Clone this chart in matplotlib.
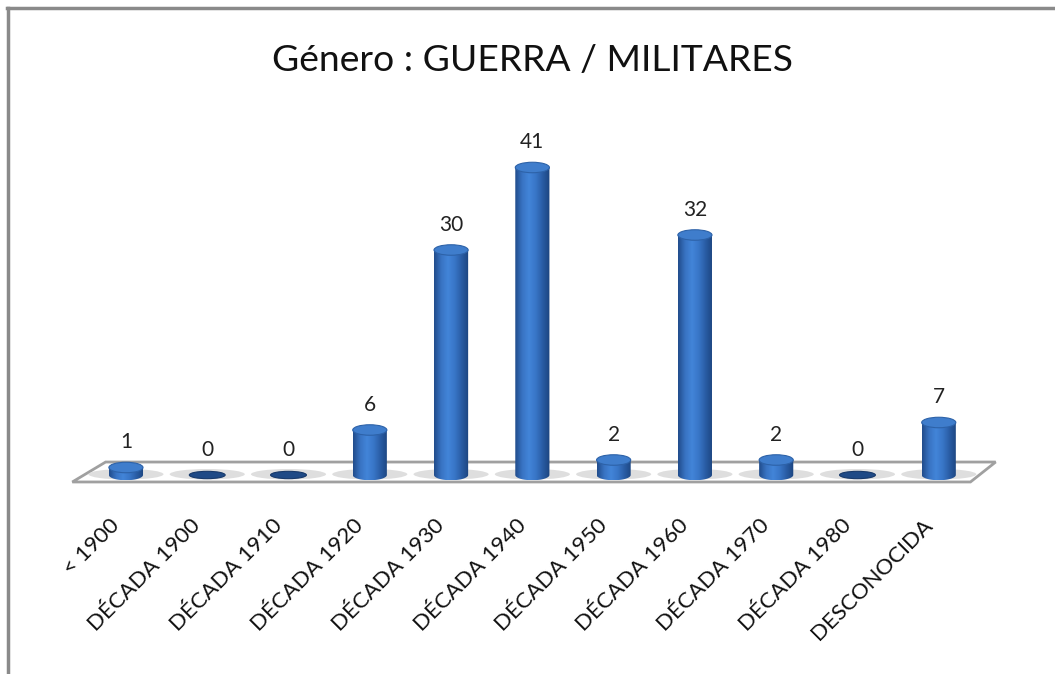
import numpy as np
import matplotlib
matplotlib.use("Agg")
import matplotlib.pyplot as plt
from matplotlib.patches import Ellipse, Polygon, PathPatch
from matplotlib.path import Path
from matplotlib.lines import Line2D

# data
categories = ['< 1900', 'DÉCADA 1900', 'DÉCADA 1910', 'DÉCADA 1920',
              'DÉCADA 1930', 'DÉCADA 1940', 'DÉCADA 1950', 'DÉCADA 1960',
              'DÉCADA 1970', 'DÉCADA 1980', 'DESCONOCIDA']
values = [1, 0, 0, 6, 30, 41, 2, 32, 2, 0, 7]
title = 'Género : GUERRA / MILITARES'

plt.rcParams['font.family'] = ['Lato', 'DejaVu Sans']

fig = plt.figure(figsize=(10.55, 6.74), dpi=100)
ax = fig.add_axes([0.0616, 0.273, 0.886, 0.523])
ax.set_xlim(-0.75, 10.75)
ax.set_ylim(-2, 45)
ax.axis('off')

# frame lines (left and top) like the cropped chart border
fig.add_artist(Line2D([0.008, 0.008], [0, 0.988], transform=fig.transFigure,
                      color='#8a8a8a', lw=2.5))
fig.add_artist(Line2D([0.007, 1.0], [0.988, 0.988], transform=fig.transFigure,
                      color='#8a8a8a', lw=2.5))

# floor
floor = Polygon([(-0.25, 1.73), (10.7, 1.73), (10.39, -0.93), (-0.66, -0.93)],
                closed=True, facecolor='white', edgecolor='#a0a0a0', lw=2.0,
                zorder=1)
ax.add_patch(floor)

x = np.arange(len(categories))
w = 0.42
eh = 1.4  # ellipse height in data units

# horizontal gradient for cylinder shading
grad_cols = np.array([
    [0.13, 0.30, 0.55],
    [0.22, 0.45, 0.76],
    [0.26, 0.52, 0.85],
    [0.22, 0.46, 0.78],
    [0.16, 0.36, 0.64],
    [0.11, 0.27, 0.50],
])
pos = np.linspace(0, 1, len(grad_cols))
g = np.linspace(0, 1, 64)
grad = np.stack([np.interp(g, pos, grad_cols[:, c]) for c in range(3)], axis=-1)
grad = grad[np.newaxis, :, :]

bars = ax.bar(x, values, width=w, color='#2a5ea8', zorder=3)

for xi, v, rect in zip(x, values, bars):
    # floor shadow
    ax.add_patch(Ellipse((xi, 0.1), w * 2.2, eh * 1.0, facecolor='#d6d6d6',
                         edgecolor='none', alpha=0.8, zorder=2))
    if v == 0:
        rect.set_visible(False)
        ax.add_patch(Ellipse((xi, 0), w * 1.05, eh * 0.7, facecolor='#1f4a86',
                             edgecolor='#17396a', lw=0.8, zorder=3))
        ax.text(xi, 2.0, '0', ha='center', va='bottom', fontsize=15,
                color='#222222', zorder=5)
        continue
    x0 = rect.get_x()
    x1 = x0 + rect.get_width()
    h = rect.get_height()
    t = np.linspace(np.pi, 2 * np.pi, 40)
    verts = [(xi + w / 2 * np.cos(tt), eh / 2 * np.sin(tt)) for tt in t]
    verts += [(x1, h), (x0, h), verts[0]]
    path = Path(verts, [Path.MOVETO] + [Path.LINETO] * (len(verts) - 2)
                + [Path.CLOSEPOLY])
    clip = PathPatch(path, facecolor='none', edgecolor='none')
    ax.add_patch(clip)
    rect.set_visible(False)
    im = ax.imshow(grad, extent=(x0, x1, -eh / 2, h), aspect='auto',
                   interpolation='bilinear', zorder=3)
    im.set_clip_path(clip)
    ax.add_patch(Ellipse((xi, h), w, eh, facecolor='#3f7dcc',
                         edgecolor='#2d62a8', lw=0.8, zorder=4))
    ax.text(xi, h + 2.0, str(v), ha='center', va='bottom', fontsize=15,
            color='#222222', zorder=5)

# category labels
for xi, lab in zip(x, categories):
    ax.annotate(lab, xy=(xi, -2), xycoords='data', xytext=(-12, -18),
                textcoords='offset points', rotation=45,
                rotation_mode='anchor', ha='right', va='top', fontsize=16,
                color='#111111')

fig.text(0.505, 0.91, title, ha='center', va='center', fontsize=26.8,
         color='#111111')

fig.savefig('out.png', dpi=100)
